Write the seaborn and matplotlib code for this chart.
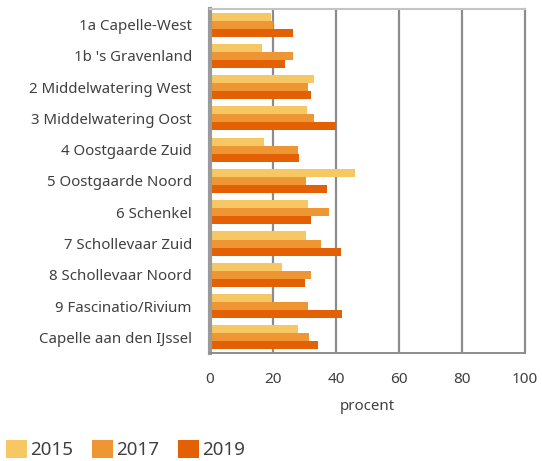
import matplotlib
matplotlib.use("Agg")
import matplotlib.pyplot as plt
from matplotlib.patches import Patch
import seaborn as sns
import pandas as pd

wijken = [
    "1a Capelle-West",
    "1b 's Gravenland",
    "2 Middelwatering West",
    "3 Middelwatering Oost",
    "4 Oostgaarde Zuid",
    "5 Oostgaarde Noord",
    "6 Schenkel",
    "7 Schollevaar Zuid",
    "8 Schollevaar Noord",
    "9 Fascinatio/Rivium",
    "Capelle aan den IJssel",
]
jaren = ["2015", "2017", "2019"]
v2015 = [19.4, 16.5, 33.0, 30.8, 17.1, 46.0, 31.1, 30.5, 22.9, 19.7, 27.9]
v2017 = [20.1, 26.3, 31.1, 33.0, 27.9, 30.5, 37.8, 35.2, 32.0, 31.1, 31.4]
v2019 = [26.3, 23.8, 32.0, 40.0, 28.2, 37.1, 32.0, 41.6, 30.1, 41.9, 34.3]
kleuren = ["#F7C764", "#EE9633", "#E36005"]
xticks = [0, 20, 40, 60, 80, 100]

rows = []
for jaar, waarden in zip(jaren, [v2015, v2017, v2019]):
    for wijk, w in zip(wijken, waarden):
        rows.append({"wijk": wijk, "jaar": jaar, "procent": w})
df = pd.DataFrame(rows)

sns.set_style("white")
plt.rcParams["font.family"] = ["Noto Sans", "DejaVu Sans"]
tekst = "#404040"

fig = plt.figure(figsize=(5.42, 4.61), dpi=100)
ax = fig.add_axes([0.3875, 0.2343, 0.581, 0.7462])

sns.barplot(data=df, y="wijk", x="procent", hue="jaar", order=wijken,
            hue_order=jaren, palette=kleuren, orient="h", width=0.77,
            gap=0, saturation=1, linewidth=0, legend=False, ax=ax)

ax.set_xlim(0, 100)
ax.set_ylim(len(wijken) - 0.5, -0.5)
ax.set_xticks(xticks)
ax.set_xticklabels([str(t) for t in xticks], fontsize=11, color=tekst)
ax.tick_params(axis="y", length=0, pad=13, labelsize=10.8, labelcolor=tekst)
ax.tick_params(axis="x", length=5, width=1.2, color="#8c8c8c", pad=9, direction="out")
ax.set_ylabel("")
ax.set_xlabel("procent", fontsize=10.8, color=tekst, labelpad=8)

ax.grid(False)
for t in xticks[1:-1]:
    ax.axvline(t, color="#8c8c8c", lw=1.6, zorder=0)

for side in ["top", "right", "bottom", "left"]:
    ax.spines[side].set_visible(True)
ax.spines["left"].set_color("#9a9a9a")
ax.spines["left"].set_linewidth(3)
ax.spines["top"].set_color("#c4c4c4")
ax.spines["top"].set_linewidth(1.5)
ax.spines["right"].set_color("#8c8c8c")
ax.spines["right"].set_linewidth(1.6)
ax.spines["bottom"].set_color("#8c8c8c")
ax.spines["bottom"].set_linewidth(1.4)
for lab in ax.get_yticklabels():
    lab.set_ha("right")

handles = [Patch(facecolor=c, edgecolor="none", label=j) for c, j in zip(kleuren, jaren)]
leg = fig.legend(handles=handles, loc="lower left", bbox_to_anchor=(0.011, 0.004),
                 ncol=3, frameon=False, fontsize=13.5, handlelength=1.1,
                 handleheight=1.1, handletextpad=0.2, columnspacing=1.0,
                 borderaxespad=0, borderpad=0)
for t in leg.get_texts():
    t.set_color(tekst)

fig.savefig("out.png", dpi=100)
